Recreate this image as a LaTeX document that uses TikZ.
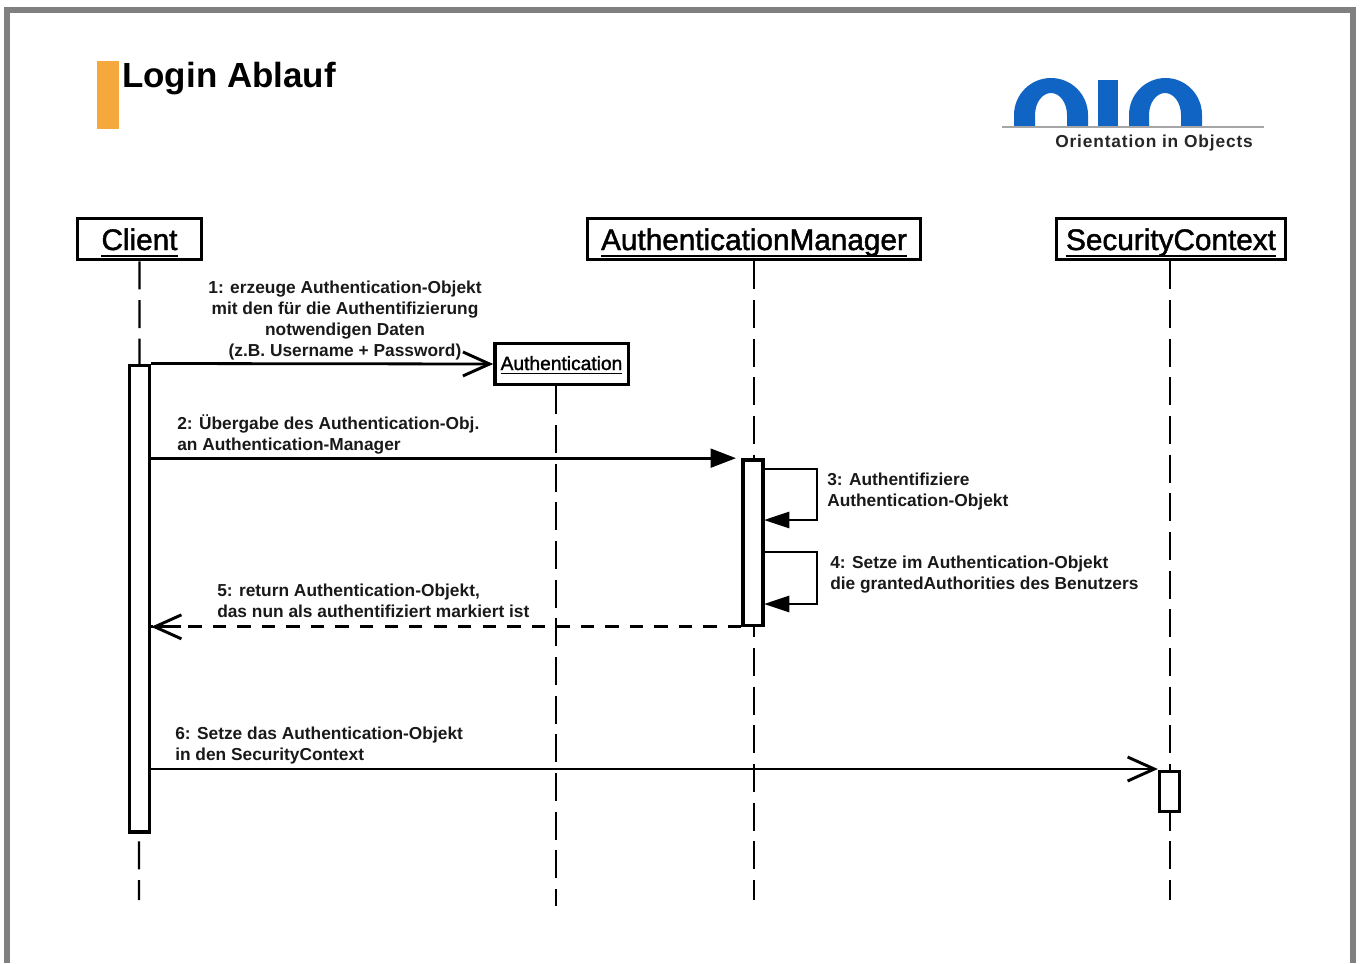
\documentclass[tikz,border=0pt]{standalone}
\usepackage{fontspec}
\setmainfont{Liberation Sans}
\newfontfamily\headfont[FakeBold=1.5]{Liberation Sans}
\newfontfamily\logofont[LetterSpace=5]{Liberation Sans}
\usetikzlibrary{arrows.meta}

\definecolor{frameGray}{RGB}{128,128,128}
\definecolor{barOrange}{RGB}{245,168,60}
\definecolor{oioBlue}{RGB}{16,100,196}

\newcommand{\headline}[1]{\setbox0=\hbox{#1}\rlap{\rule[-0.22em]{\wd0}{0.06em}}\box0}

\tikzset{
  head/.style={draw, line width=2.5pt, fill=white, inner sep=0pt, minimum height=31pt, text height=20pt, text depth=3.5pt, font=\headfont\fontsize{22.3}{24}\selectfont},
  lifeline/.style={line width=1.7pt, dash pattern=on 21pt off 8pt},
  activation/.style={draw, line width=2.5pt, fill=white, inner sep=0pt, minimum width=15pt},
  msg/.style={line width=2.1pt},
  msglabel/.style={inner sep=0pt, text=black!90, font=\fontsize{13}{15.75}\selectfont\bfseries},
  openhead/.style={-{Straight Barb[length=20pt,width=18pt,line width=2.2pt]}},
  fullhead/.style={-{Triangle[length=19pt,width=14pt]}},
  selfhead/.style={-{Triangle[length=19pt,width=12pt]}}
}

\begin{document}
\begin{tikzpicture}[x=0.75pt, y=-0.75pt]
    \useasboundingbox (0,0) rectangle (1362,963);

    % frame and title
    \draw[frameGray, line width=5pt] (7,963) -- (7,10) -- (1353,10) -- (1353,963);
    \fill[barOrange] (97,61) rectangle (119,129);
    \node[anchor=west, inner sep=0pt, font=\fontsize{26.2}{30}\selectfont\bfseries] (title) at (122,79) {Login Ablauf};

    % logo
    \fill[oioBlue] (1014,126) -- (1014,115) arc[x radius=37, y radius=37, start angle=180, end angle=360] -- (1088,126)
      -- (1067,126) -- (1067,115) arc[x radius=16, y radius=22, start angle=360, end angle=180] -- (1035,126) -- cycle;
    \fill[oioBlue] (1098,80) rectangle (1118,126);
    \fill[oioBlue] (1129,126) -- (1129,115) arc[x radius=36.5, y radius=37, start angle=180, end angle=360] -- (1202,126)
      -- (1181,126) -- (1181,115) arc[x radius=16, y radius=22, start angle=360, end angle=180] -- (1149,126) -- cycle;
    \draw[gray!70, line width=1.5pt] (1002,127.5) -- (1264,127.5);
    \node[inner sep=0pt, text=black!85, font=\logofont\fontsize{13}{14}\selectfont\bfseries] (oiotext) at (1154,143.5) {Orientation in Objects};

    % lifelines
    \coordinate (clientEnd) at (139,900);
    \coordinate (authEnd) at (556,906);
    \coordinate (managerEnd) at (754,900);
    \coordinate (contextEnd) at (1170,900);
    \node[head, minimum width=93pt] (client) at (139.5,239) {\headline{Client}};
    \node[head, minimum width=250pt] (manager) at (754,239) {\headline{AuthenticationManager}};
    \node[head, minimum width=172pt] (context) at (1171,239) {\headline{SecurityContext}};
    \node[head, minimum width=100pt, text height=11pt, text depth=2pt, font=\headfont\fontsize{14.4}{16}\selectfont] (auth) at (561.5,364) {\headline{Authentication}};
    \draw[lifeline] (client) -- (clientEnd);
    \draw[lifeline] (auth.south -| authEnd) -- (authEnd);
    \draw[lifeline] (manager) -- (managerEnd);
    \draw[lifeline] (context.south -| contextEnd) -- (contextEnd);

    % activations
    \node[activation, minimum height=350pt] (clientBar) at (139.5,598.5) {};
    \node[activation, minimum height=124pt] (managerBar) at (753,542.5) {};
    \node[activation, minimum height=30pt] (contextBar) at (1169.5,791.5) {};

    % messages
    \coordinate (selfA) at (764,469);
    \coordinate (selfB) at (764,520);
    \coordinate (selfC) at (764,552);
    \coordinate (selfD) at (764,604);
    \draw[msg, openhead] (clientBar.north east) -- (auth.west);
    \draw[msg, fullhead, shorten >=4pt] (clientBar.east |- managerBar.north west) -- (managerBar.north west);
    \draw[msg, selfhead] (selfA) -- ++(53,0) |- (selfB);
    \draw[msg, selfhead] (selfC) -- ++(53,0) |- (selfD);
    \draw[msg, dash pattern=on 10pt off 8.4pt] (managerBar.south west) -- (clientBar.east |- managerBar.south west);
    \draw[msg, openhead] ([xshift=22pt]clientBar.east |- managerBar.south west) -- (clientBar.east |- managerBar.south west);
    \draw[msg, openhead] (clientBar.east |- 0,769) -- (contextBar.north west |- 0,769);

    % labels
    \node[msglabel, align=center] (label1) at (345,321) {1: erzeuge Authentication-Objekt\\mit den für die Authentifizierung\\notwendigen Daten\\(z.B. Username + Password)};
    \node[msglabel, align=left, anchor=west] (label2) at (177,434) {2: Übergabe des Authentication-Obj.\\an Authentication-Manager};
    \node[msglabel, align=left, anchor=west] (label3) at (827,492) {3: Authentifiziere\\Authentication-Objekt};
    \node[msglabel, align=left, anchor=west] (label4) at (830,575) {4: Setze im Authentication-Objekt\\die grantedAuthorities des Benutzers};
    \node[msglabel, align=left, anchor=west] (label5) at (217,601) {5: return Authentication-Objekt,\\das nun als authentifiziert markiert ist};
    \node[msglabel, align=left, anchor=west] (label6) at (175,746) {6: Setze das Authentication-Objekt\\in den SecurityContext};
\end{tikzpicture}
\end{document}
